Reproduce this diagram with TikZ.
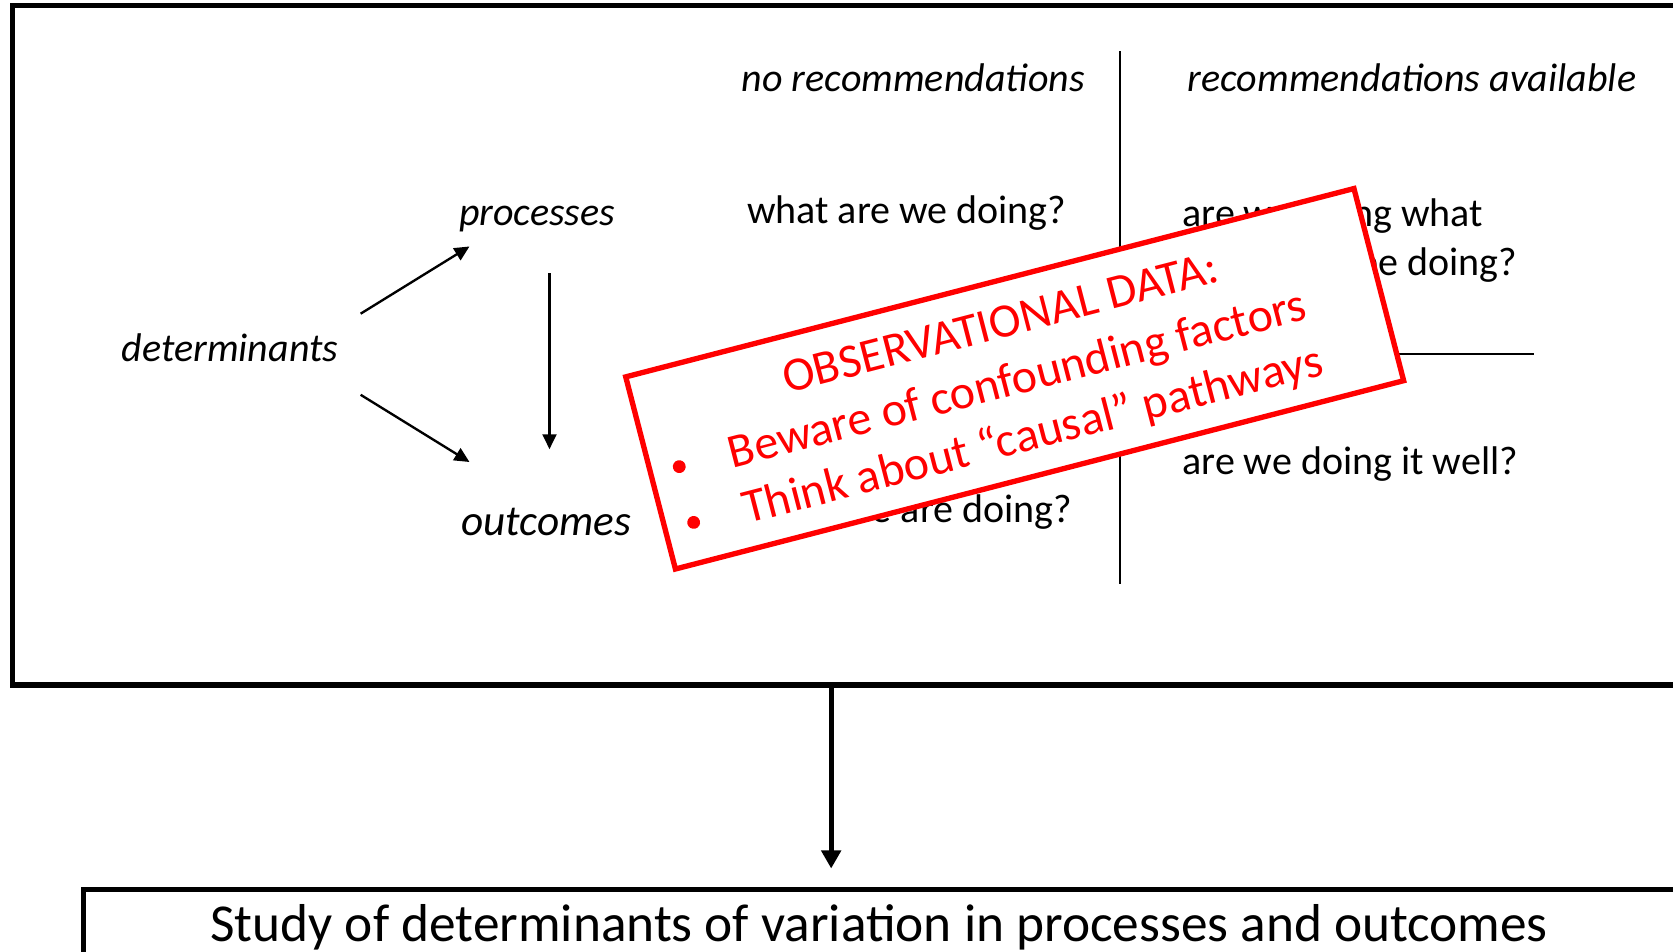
\documentclass[tikz,border=0pt]{standalone}
\usepackage{fontspec}
\setmainfont{Carlito}
\usetikzlibrary{arrows.meta}
\begin{document}
\begin{tikzpicture}[x=1pt,y=-1pt,
  lbl/.style={inner sep=0pt, font=\fontsize{37.5}{44}\selectfont},
  ilbl/.style={inner sep=0pt, font=\fontsize{37.5}{44}\selectfont\itshape},
  thinarrow/.style={-{Triangle[length=14pt,width=13pt]}, line width=2.2pt},
  thickarrow/.style={-{Triangle[length=17pt,width=18pt]}, line width=4.8pt},
  frame/.style={line width=4.8pt},
  rule/.style={line width=2pt},
  redtxt/.style={text=red, inner sep=0pt, font=\fontsize{45}{52}\selectfont, transform shape}
]
\useasboundingbox (0,0) rectangle (1568,892);
\clip (0,0) rectangle (1568,892);
\fill[white] (0,0) rectangle (1568,892);

% outer frame and bottom box
\draw[frame] (12,5) rectangle (1620,642);
\draw[frame] (78,834) rectangle (1620,960);

% headers
\node[ilbl, anchor=base west] (norec) at (695,86) {no recommendations};
\node[ilbl, anchor=base west] (rec) at (1113,86) {recommendations available};

% left diagram
\node[ilbl, anchor=base west] (proc) at (430,211) {processes};
\node[ilbl, anchor=base west] (det) at (114,339) {determinants};
\node[inner sep=0pt, font=\fontsize{40.5}{48}\selectfont\itshape, anchor=base west] (outc) at (432,502) {outcomes};

\coordinate (dA) at (338,294);
\coordinate (pA) at (440,231);
\coordinate (dB) at (338,370);
\coordinate (oB) at (440,433);
\coordinate (pC) at (515,256);
\coordinate (oC) at (515,421);
\draw[thinarrow] (dA) -- (pA);
\draw[thinarrow] (dB) -- (oB);
\draw[thinarrow] (pC) -- (oC);

% grid lines
\coordinate (vtop) at (1050,48);
\coordinate (vbot) at (1050,547);
\coordinate (hl) at (667,332);
\coordinate (hr) at (1438,332);
\draw[rule] (vtop) -- (vbot);
\draw[rule] (hl) -- (hr);

% questions
\node[lbl, anchor=base west] (q1) at (700,209) {what are we doing?};
\node[lbl, anchor=base west] (q2a) at (1108,212) {are we doing what};
\node[lbl, anchor=base west] (q2b) at (1108,258) {we should be doing?};
\node[lbl, anchor=base west] (q3) at (1108,445) {are we doing it well?};
\node[lbl, anchor=base east] (q4) at (1005,490) {we are doing?};

% bottom arrow and text
\coordinate (frameout) at (779,644);
\coordinate (boxin) at (779,814);
\draw[thickarrow] (frameout) -- (boxin);
\node[inner sep=0pt, font=\fontsize{50}{58}\selectfont, anchor=base] (study) at (824,882)
  {Study of determinants of variation in processes and outcomes};

% red warning box
\begin{scope}[shift={(951,355)}, rotate=14.5]
  \node[draw=red, line width=5pt, fill=white, minimum width=705pt, minimum height=186pt,
        inner sep=0pt, transform shape] (warn) at (0,0) {};
  \node[redtxt, anchor=base] (obs) at (0,-40) {OBSERVATIONAL DATA:};
  \node[redtxt, anchor=base west] (b1) at (-277,15) {Beware of confounding factors};
  \node[redtxt, anchor=base west] (b2) at (-277,69) {Think about “causal” pathways};
  \fill[red] (-325,1) circle (6pt);
  \fill[red] (-325,55) circle (6pt);
\end{scope}
\end{tikzpicture}
\end{document}
